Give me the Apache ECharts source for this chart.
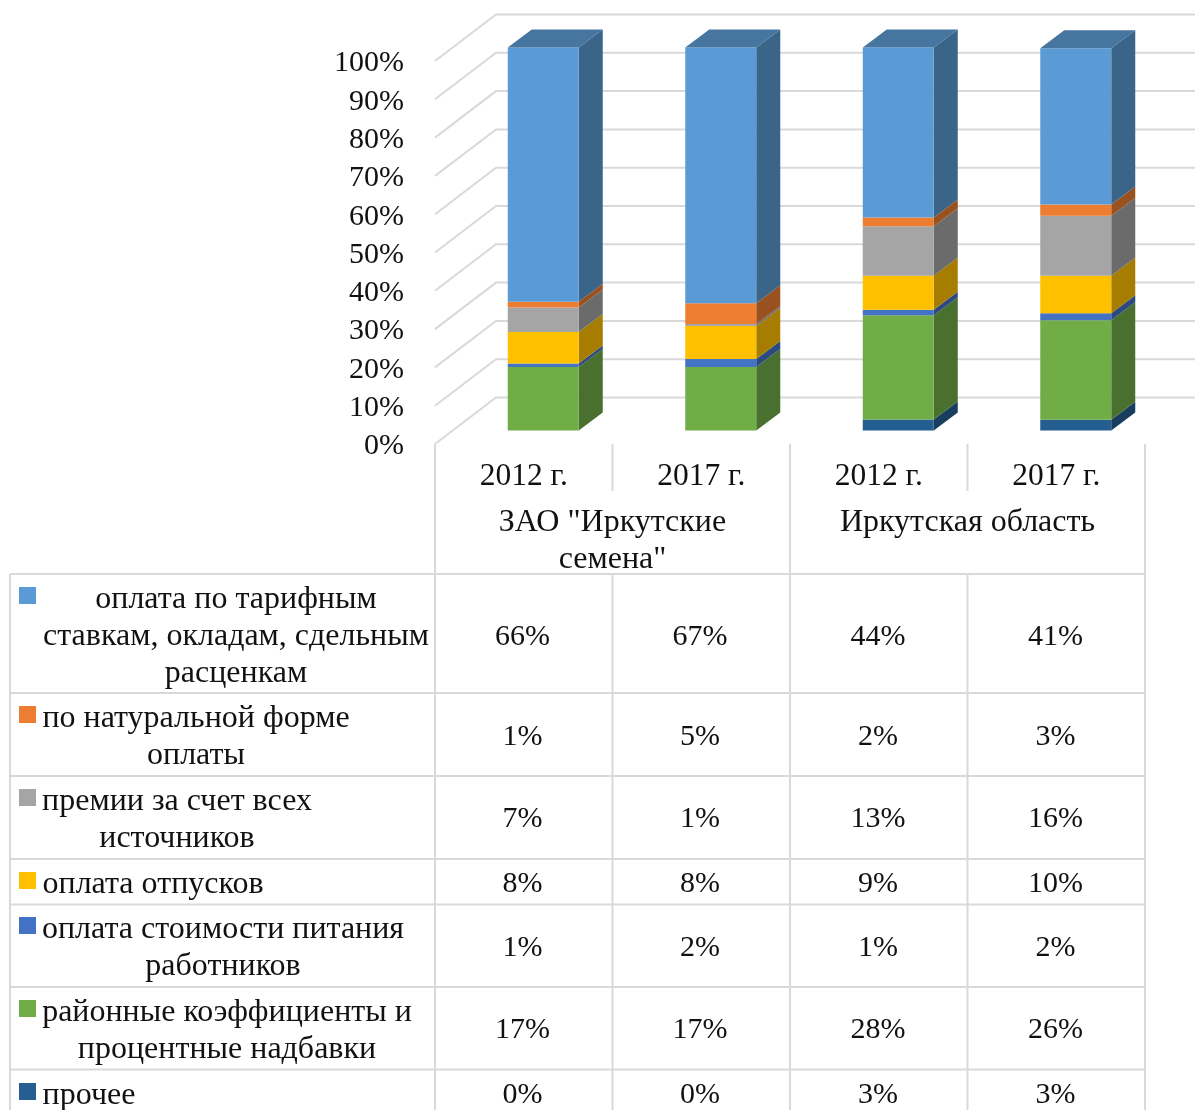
<!DOCTYPE html>
<html lang="ru">

<head>
  <meta charset="UTF-8">
  <title>Структура оплаты труда</title>
  <script src="https://cdn.jsdelivr.net/npm/echarts@6/dist/echarts.min.js"></script>
  <style>
    html, body { margin: 0; padding: 0; background: #fff; }
    #chart { width: 1195px; height: 1110px; }
  </style>
</head>

<body>
  <div id="chart"></div>
  <script>
    const years = ['2012 г.', '2017 г.', '2012 г.', '2017 г.'];
    const groups = ['ЗАО "Иркутские\nсемена"', 'Иркутская область'];
    const yTicks = [0, 10, 20, 30, 40, 50, 60, 70, 80, 90, 100];

    // heights of the bar segments (percent)
    const other = [0, 0, 2.9, 2.8];
    const district = [16.6, 16.6, 27.2, 26];
    const meals = [0.9, 2.1, 1.4, 1.8];
    const vacation = [8.2, 8.6, 8.9, 9.8];
    const bonus = [6.4, 0.5, 12.9, 15.7];
    const inKind = [1.5, 5.4, 2.3, 2.9];
    const tariff = [66.4, 66.8, 44.4, 40.8];

    // table rows, as printed
    const tableTariff = ['66%', '67%', '44%', '41%'];
    const tableInKind = ['1%', '5%', '2%', '3%'];
    const tableBonus = ['7%', '1%', '13%', '16%'];
    const tableVacation = ['8%', '8%', '9%', '10%'];
    const tableMeals = ['1%', '2%', '1%', '2%'];
    const tableDistrict = ['17%', '17%', '28%', '26%'];
    const tableOther = ['0%', '0%', '3%', '3%'];

    const FONT = '"Liberation Serif", "Times New Roman", serif';
    const NUM_SIZE = 30;
    const WORD_SIZE = 32; // cyrillic runs wider in the original
    const GRID_COLOR = '#d9d9d9';

    const gridLeft = 435, gridTop = 61, gridW = 710, gridH = 383;
    const colW = gridW / 4;
    // depth of the fake 3d box: the back wall, and where the bars stand in it
    const wallDx = 61, wallDy = -46.5;
    const barDx = 19.5, barDy = -13.5;
    const depthDx = 24, depthDy = -18;

    // drawn bottom to top
    const stack = [
      { name: 'прочее', values: other, front: '#255E91', side: '#183D5E', table: tableOther },
      { name: 'районные коэффициенты и процентные надбавки', values: district, front: '#70AD47', side: '#49702E', table: tableDistrict },
      { name: 'оплата стоимости питания работников', values: meals, front: '#4472C4', side: '#2C4A80', table: tableMeals },
      { name: 'оплата отпусков', values: vacation, front: '#FFC000', side: '#A67D00', table: tableVacation },
      { name: 'премии за счет всех источников', values: bonus, front: '#A5A5A5', side: '#6B6B6B', table: tableBonus },
      { name: 'по натуральной форме оплаты', values: inKind, front: '#ED7D31', side: '#9A5120', table: tableInKind },
      { name: 'оплата по тарифным ставкам, окладам, сдельным расценкам', values: tariff, front: '#5B9BD5', side: '#3A6488', top: '#4675A0', table: tableTariff },
    ];

    // table layout, top row first
    const rows = [
      { idx: 6, lines: ['оплата по тарифным', 'ставкам, окладам, сдельным', 'расценкам'], cx: 236, y: 600, cy: 637, sw: 587 },
      { idx: 5, lines: ['по натуральной форме', 'оплаты'], cx: 196, y: 719, cy: 737, sw: 706 },
      { idx: 4, lines: ['премии за счет всех', 'источников'], cx: 177, y: 802, cy: 819, sw: 789 },
      { idx: 3, lines: ['оплата отпусков'], cx: 153, y: 885, cy: 884, sw: 872 },
      { idx: 2, lines: ['оплата стоимости питания', 'работников'], cx: 223, y: 930, cy: 948, sw: 917 },
      { idx: 1, lines: ['районные коэффициенты и', 'процентные надбавки'], cx: 227, y: 1013, cy: 1030, sw: 1000 },
      { idx: 0, lines: ['прочее'], cx: 89, y: 1096, cy: 1095, sw: 1083 },
    ];
    const rowLines = [574, 693, 776, 859, 904.5, 987, 1069.5];
    const cellX = [522.5, 700, 878, 1055.5];

    function line(x1, y1, x2, y2) {
      return {
        type: 'line',
        silent: true,
        shape: { x1, y1, x2, y2 },
        style: { stroke: GRID_COLOR, lineWidth: 2 },
      };
    }

    function text(str, x, y, size) {
      return {
        type: 'text',
        silent: true,
        style: {
          text: str, x, y,
          align: 'center',
          verticalAlign: 'middle',
          fill: '#111',
          font: size + 'px ' + FONT,
        },
      };
    }

    const tableEls = [];
    const right = gridLeft + gridW;
    tableEls.push(line(gridLeft, gridTop + gridH, gridLeft, 1110));
    tableEls.push(line(gridLeft + colW * 2, gridTop + gridH, gridLeft + colW * 2, 1110));
    tableEls.push(line(right, gridTop + gridH, right, 1110));
    tableEls.push(line(gridLeft + colW, gridTop + gridH, gridLeft + colW, 491));
    tableEls.push(line(gridLeft + colW * 3, gridTop + gridH, gridLeft + colW * 3, 491));
    tableEls.push(line(gridLeft + colW, 574, gridLeft + colW, 1110));
    tableEls.push(line(gridLeft + colW * 3, 574, gridLeft + colW * 3, 1110));
    tableEls.push(line(10, 574, 10, 1110));
    rowLines.forEach((y) => tableEls.push(line(10, y, right, y)));

    rows.forEach((row) => {
      const s = stack[row.idx];
      tableEls.push({
        type: 'rect',
        silent: true,
        shape: { x: 19, y: row.sw, width: 17, height: 17 },
        style: { fill: s.front },
      });
      row.lines.forEach((l, i) => tableEls.push(text(l, row.cx, row.y + i * 36.6, WORD_SIZE)));
      s.table.forEach((t, i) => tableEls.push(text(t, cellX[i], row.cy, NUM_SIZE)));
    });

    const chart = echarts.init(document.getElementById('chart'), null, { renderer: 'canvas' });

    function renderWall(params, api) {
      const box = params.coordSys;
      const y = api.coord([0, api.value(0)])[1];
      return {
        type: 'polyline',
        shape: {
          points: [
            [box.x, y],
            [box.x + wallDx, y + wallDy],
            [box.x + box.width + wallDx, y + wallDy],
          ],
        },
        style: { stroke: GRID_COLOR, lineWidth: 2, fill: null },
      };
    }

    function renderSegment(s) {
      return (params, api) => {
        const i = api.value(0);
        if (api.value(2) <= api.value(1)) return null;
        const base = api.coord([i, api.value(1)]);
        const tip = api.coord([i, api.value(2)]);
        const w = api.size([1, 0])[0] * 0.4;
        const x0 = base[0] - w / 2 + barDx;
        const x1 = x0 + w;
        const y0 = base[1] + barDy;
        const y1 = tip[1] + barDy;
        const children = [
          {
            type: 'polygon',
            shape: { points: [[x1, y0], [x1 + depthDx, y0 + depthDy], [x1 + depthDx, y1 + depthDy], [x1, y1]] },
            style: { fill: s.side },
          },
          {
            type: 'rect',
            shape: { x: x0, y: y1, width: w, height: y0 - y1 },
            style: { fill: s.front },
          },
        ];
        if (s.top) {
          children.push({
            type: 'polygon',
            shape: { points: [[x0, y1], [x0 + depthDx, y1 + depthDy], [x1 + depthDx, y1 + depthDy], [x1, y1]] },
            style: { fill: s.top },
          });
        }
        return { type: 'group', children };
      };
    }

    let running = years.map(() => 0);
    const barSeries = stack.map((s) => {
      const data = s.values.map((v, i) => [i, running[i], running[i] + v]);
      running = running.map((r, i) => r + s.values[i]);
      return {
        type: 'custom',
        name: s.name,
        xAxisIndex: 0,
        yAxisIndex: 0,
        encode: { x: 0, y: [1, 2] },
        renderItem: renderSegment(s),
        data,
        z: 3,
      };
    });

    chart.setOption({
      animation: false,
      backgroundColor: '#fff',
      grid: { left: gridLeft, top: gridTop, width: gridW, height: gridH },
      xAxis: [
        {
          type: 'category',
          data: years.map((y, i) => ({ value: y + i, label: y })),
          position: 'bottom',
          axisLine: { show: false },
          axisTick: { show: false },
          axisLabel: {
            interval: 0,
            margin: 17,
            color: '#111',
            fontFamily: FONT,
            fontSize: 31.5,
            formatter: (v) => v.slice(0, -1),
          },
        },
        {
          type: 'category',
          data: groups,
          position: 'bottom',
          offset: 0,
          axisLine: { show: false },
          axisTick: { show: false },
          axisLabel: {
            interval: 0,
            margin: 60,
            lineHeight: 37,
            color: '#111',
            fontFamily: FONT,
            fontSize: WORD_SIZE,
          },
        },
      ],
      yAxis: {
        type: 'value',
        min: 0,
        max: 100,
        interval: 10,
        axisLine: { show: false },
        axisTick: { show: false },
        splitLine: { show: false },
        axisLabel: {
          margin: 31,
          formatter: (v) => '{v|' + v + '%}',
          rich: {
            v: {
              color: '#111',
              fontFamily: FONT,
              fontSize: NUM_SIZE,
              padding: [5, 0, 0, 0],
            },
          },
        },
      },
      series: [
        {
          type: 'custom',
          name: 'wall',
          xAxisIndex: 0,
          yAxisIndex: 0,
          encode: { y: 0 },
          renderItem: renderWall,
          data: yTicks.map((v) => [v]),
          z: 1,
        },
        ...barSeries,
      ],
      graphic: { elements: tableEls },
    });
  </script>
</body>

</html>
